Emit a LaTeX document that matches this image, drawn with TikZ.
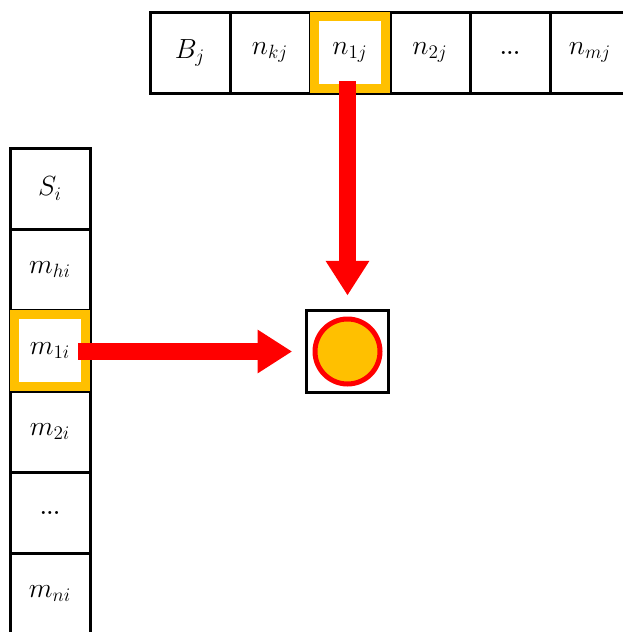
\documentclass[tikz,border=0pt]{standalone}
\usepackage{graphicx}
\usetikzlibrary{arrows.meta}
\definecolor{gold}{HTML}{FFC000}
\definecolor{bigred}{HTML}{FF0000}
\newcommand{\celltext}[1]{\scalebox{1.2}{\LARGE #1}}
\begin{document}
\begin{tikzpicture}[x=0.75pt,y=-0.75pt,
  cell/.style={draw=black,line width=2.25pt,minimum width=60pt,minimum height=60.75pt,inner sep=0pt,outer sep=0pt,fill=white},
  hl/.style={draw=gold,line width=6.75pt},
  bigarrow/.style={draw=bigred,line width=13pt,-{Triangle[width=31pt,length=26pt]}}]
\useasboundingbox (0,0) rectangle (622,632);
% top row
\node[cell] (bj)  at (190,52.5) {\celltext{$B_j$}};
\node[cell] (nkj) at (270,52.5) {\celltext{$n_{kj}$}};
\node[cell] (n1j) at (350,52.5) {\celltext{$n_{1j}$}};
\node[cell] (n2j) at (430,52.5) {\celltext{$n_{2j}$}};
\node[cell] (ndots) at (510,52.5) {\scalebox{1.1}{\Large\bfseries ...}};
\node[cell] (nmj) at (590,52.5) {\celltext{$n_{mj}$}};
% left column
\node[cell] (si)  at (50,188.5) {\celltext{$S_i$}};
\node[cell] (mhi) at (50,269.5) {\celltext{$m_{hi}$}};
\node[cell] (m1i) at (50,350.5) {\celltext{$m_{1i}$}};
\node[cell] (m2i) at (50,431.5) {\celltext{$m_{2i}$}};
\node[cell] (mdots) at (50,512.5) {\scalebox{1.1}{\Large\bfseries ...}};
\node[cell] (mni) at (50,593.5) {\celltext{$m_{ni}$}};
% highlights
\draw[hl] ([shift={(4.5,4.5)}]n1j.north west) rectangle ([shift={(-4.5,-4.5)}]n1j.south east);
\draw[hl] ([shift={(4.5,4.5)}]m1i.north west) rectangle ([shift={(-4.5,-4.5)}]m1i.south east);
% target box
\node[cell,minimum width=61pt,minimum height=62pt] (box) at (347.5,351.5) {};
\node[circle,draw=bigred,fill=gold,line width=3.75pt,minimum size=48.75pt,inner sep=0pt] (dot) at (box.center) {};
% arrows
\draw[bigarrow,shorten >=11pt] ([yshift=9pt]n1j.south -| box.north) -- (box.north);
\draw[bigarrow,shorten >=11pt] ([xshift=-9pt]m1i.east |- box.west) -- (box.west);
\end{tikzpicture}
\end{document}
